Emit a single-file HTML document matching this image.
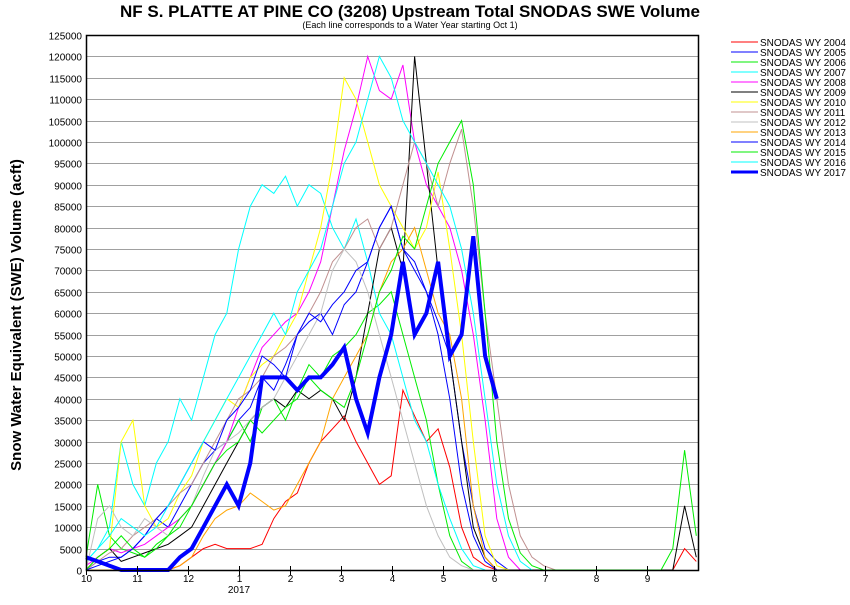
<!DOCTYPE html>
<html><head><meta charset="utf-8"><style>
body{margin:0;background:#fff;font-family:"Liberation Sans",sans-serif;}
svg text{font-family:"Liberation Sans",sans-serif;}
</style></head><body>
<svg id="chart" width="850" height="600" xmlns="http://www.w3.org/2000/svg">
<text x="410" y="17" text-anchor="middle" font-size="17" font-weight="bold">NF S. PLATTE AT PINE CO (3208) Upstream Total SNODAS SWE Volume</text>
<text x="410" y="28" text-anchor="middle" font-size="9">(Each line corresponds to a Water Year starting Oct 1)</text>
<text transform="translate(21,315) rotate(-90)" text-anchor="middle" font-size="15" font-weight="bold">Snow Water Equivalent (SWE) Volume (acft)</text>
<g id="grid"></g>
<g id="series"></g>
<g id="axes"></g>
<g id="legend"></g>
</svg>
<script>
// weekly SWE values (thousand acft), week 0 = Oct 1
const names=["SNODAS WY 2004","SNODAS WY 2005","SNODAS WY 2006","SNODAS WY 2007","SNODAS WY 2008","SNODAS WY 2009","SNODAS WY 2010","SNODAS WY 2011","SNODAS WY 2012","SNODAS WY 2013","SNODAS WY 2014","SNODAS WY 2015","SNODAS WY 2016","SNODAS WY 2017"];
const colors=["#ff0000","#0000ff","#00ee00","#00ffff","#ff00ff","#000000","#ffff00","#c09090","#c0c0c0","#ffa500","#0000ff","#00ee00","#00ffff","#0000ff"];
const wy2004=[0,0,0,0,0,0,0,0,1,3,5,6,5,5,5,6,12,16,18,25,30,33,36,30,25,20,22,42,36,30,33,24,10,3,1,0,0,0,0,0,0,0,0,0,0,0,0,0,0,0,0,5,2];
const wy2005=[0,2,3,3,5,8,12,10,15,20,25,28,30,35,38,45,42,48,55,58,60,55,62,65,72,80,85,75,70,65,58,50,30,15,5,2,0];
const wy2006=[3,20,8,5,4,3,6,8,10,15,20,25,30,35,30,38,40,35,42,48,45,50,52,55,60,62,65,55,45,35,20,8,2,0];
const wy2007=[2,5,10,30,20,15,25,30,40,35,45,55,60,75,85,90,88,92,85,90,88,80,75,82,72,60,55,45,35,30,20,12,5,1,0];
const wy2008=[1,3,5,4,5,6,8,10,12,15,20,25,30,38,45,52,55,58,60,65,72,85,98,108,120,112,110,118,100,90,85,80,70,55,35,12,3,0];
const wy2009=[0,3,5,2,3,4,5,6,8,10,15,20,25,30,35,38,40,38,42,40,42,40,35,45,60,75,80,70,120,95,70,50,30,10,3,0,0,0,0,0,0,0,0,0,0,0,0,0,0,0,0,15,3];
const wy2010=[0,3,5,30,35,15,10,12,18,22,30,35,40,38,45,48,50,55,60,70,80,95,115,110,100,90,85,80,75,80,93,75,55,30,8,1,0];
const wy2011=[0,2,4,5,8,10,12,15,18,20,25,30,35,40,42,45,50,52,55,60,65,72,75,80,82,75,80,90,100,95,85,95,103,85,60,40,20,8,3,1,0];
const wy2012=[0,12,15,10,8,12,10,8,12,15,22,28,30,32,35,38,40,45,50,55,60,70,75,72,65,55,45,35,25,15,8,3,1,0];
const wy2013=[0,0,0,0,0,0,0,0,1,3,8,12,14,15,18,16,14,15,20,25,30,40,45,50,55,65,72,75,80,70,60,55,40,15,3,0];
const wy2014=[0,1,2,3,5,8,12,15,20,25,30,28,35,38,42,50,48,45,55,60,58,62,65,70,72,80,85,75,72,65,55,40,20,8,2,0];
const wy2015=[0,3,5,8,5,3,5,8,12,15,20,25,28,30,35,32,35,38,40,45,42,40,38,45,55,65,70,78,75,85,95,100,105,90,60,30,12,4,1,0,0,0,0,0,0,0,0,0,0,0,5,28,8];
const wy2016=[2,5,8,12,10,8,10,15,20,25,30,35,40,45,50,55,60,55,65,70,75,85,95,100,110,120,115,105,100,95,90,85,75,60,40,20,8,2,0];
const wy2017=[3,2,1,0,0,0,0,0,3,5,10,15,20,15,25,45,45,45,42,45,45,48,52,40,32,45,55,72,55,60,72,50,55,78,50,40];
const series=[wy2004,wy2005,wy2006,wy2007,wy2008,wy2009,wy2010,wy2011,wy2012,wy2013,wy2014,wy2015,wy2016,wy2017];
const yTicks=[0,5000,10000,15000,20000,25000,30000,35000,40000,45000,50000,55000,60000,65000,70000,75000,80000,85000,90000,95000,100000,105000,110000,115000,120000,125000];
const monthLabels=["10","11","12","1","2","3","4","5","6","7","8","9"];

const NS="http://www.w3.org/2000/svg";
const L=86,R=698,T=35,B=570;
const x=w=>L+w*7*(R-L)/365;
const xm=m=>L+m*(R-L)/12;
const y=v=>B-v/125*(B-T);
function mk(tag,attrs,parent){const e=document.createElementNS(NS,tag);for(const k in attrs)e.setAttribute(k,attrs[k]);parent.appendChild(e);return e;}
const grid=document.getElementById('grid'),axes=document.getElementById('axes'),sg=document.getElementById('series'),lg=document.getElementById('legend');
yTicks.forEach(t=>{
  const yy=Math.round(B-t/125000*(B-T))+0.5;
  if(t>0){const g=mk('line',{x1:L,x2:R,y1:yy,y2:yy,stroke:'#a0a0a0','stroke-width':1},grid);
  
  }
  const tl=mk('text',{x:82,y:yy+4,'text-anchor':'end','font-size':10},axes);tl.textContent=t;
  
  
});
series.forEach((s,i)=>{
  const pts=s.map((v,w)=>x(w).toFixed(1)+','+y(v).toFixed(1)).join(' ');
  const p=mk('polyline',{points:pts,fill:'none',stroke:colors[i],'stroke-width':i==13?4:1,'stroke-linejoin':'miter'},sg);
  
  
});
mk('rect',{x:L+0.5,y:T+0.5,width:R-L,height:B-T,fill:'none',stroke:'#000','stroke-width':1.5},axes);
monthLabels.forEach((m,i)=>{
  const xx=Math.round(xm(i))+0.5;
  mk('line',{x1:xx,x2:xx,y1:B-4,y2:B+5,stroke:'#000'},axes);
  const t=mk('text',{x:xx,y:B+12,'text-anchor':'middle','font-size':10},axes);t.textContent=m;
  
  
});
const yr=mk('text',{x:Math.round(xm(3)),y:B+23,'text-anchor':'middle','font-size':10},axes);yr.textContent='2017';


names.forEach((n,i)=>{
  const yy=42+i*10;
  mk('line',{x1:731,x2:758,y1:yy,y2:yy,stroke:colors[i],'stroke-width':i==13?3:1},lg);
  const t=mk('text',{x:760,y:yy+4,'font-size':10},lg);t.textContent=n;
  
  
});
</script>
</body></html>
